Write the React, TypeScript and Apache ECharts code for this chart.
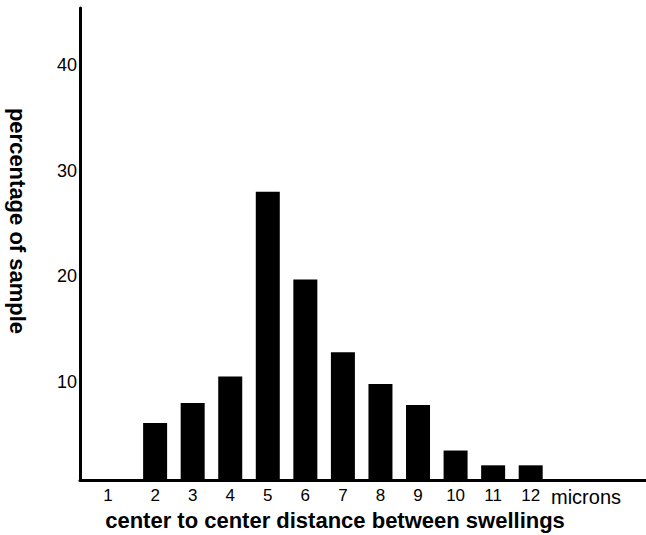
import React, { useEffect, useRef } from "react";
import * as echarts from "echarts";

const categories = [1, 2, 3, 4, 5, 6, 7, 8, 9, 10, 11, 12];
const percentages = [0, 6.1, 8.0, 10.5, 28.0, 19.7, 12.8, 9.8, 7.8, 3.5, 2.1, 2.1];
const yTickValues = [10, 20, 30, 40];
const xTitle = "center to center distance between swellings";
const yTitle = "percentage of sample";
const unitLabel = "microns";

const FONT = "'Liberation Sans', Arial, Helvetica, sans-serif";

export default function App() {
  const ref = useRef<HTMLDivElement>(null);
  useEffect(() => {
    document.body.style.margin = "0";
    if (!ref.current) return;
    const chart = echarts.init(ref.current, null, { renderer: "svg" });
    chart.setOption({
      animation: false,
      backgroundColor: "#fff",
      grid: { left: 80, right: 0, top: 8, bottom: 55, containLabel: false },
      xAxis: {
        type: "value",
        min: 0,
        max: 15.07,
        splitLine: { show: false },
        axisTick: { show: false },
        axisLine: { show: true, lineStyle: { color: "#000", width: 3 } },
        axisLabel: {
          customValues: categories,
          color: "#000",
          fontFamily: FONT,
          fontSize: 17,
          margin: 7,
          formatter: (v: number) => (v === 1 ? "{a|1}" : String(v)),
          rich: { a: { padding: [0, 19, 0, 0], fontSize: 17, fontFamily: FONT, color: "#000" } },
        },
      },
      yAxis: {
        type: "value",
        min: 0.71,
        max: 45.4,
        splitLine: { show: false },
        axisTick: { show: false },
        axisLine: { show: true, lineStyle: { color: "#000", width: 3 } },
        axisLabel: {
          customValues: yTickValues,
          color: "#000",
          fontFamily: FONT,
          fontSize: 18,
          margin: 3,
        },
      },
      series: [
        {
          type: "bar",
          data: categories.map((c, i) => [c, percentages[i]]),
          barWidth: 24,
          clip: true,
          itemStyle: { color: "#000" },
        },
      ],
      graphic: [
        {
          type: "text",
          x: 335,
          y: 520,
          style: {
            text: xTitle,
            fontFamily: FONT,
            fontSize: 22,
            fontWeight: "bold",
            fill: "#000",
            align: "center",
            verticalAlign: "middle",
          },
        },
        {
          type: "text",
          x: 17,
          y: 221,
          rotation: -Math.PI / 2,
          style: {
            text: yTitle,
            fontFamily: FONT,
            fontSize: 22,
            fontWeight: "bold",
            fill: "#000",
            align: "center",
            verticalAlign: "middle",
          },
        },
        {
          type: "text",
          x: 551,
          y: 497,
          style: {
            text: unitLabel,
            fontFamily: FONT,
            fontSize: 20,
            fill: "#000",
            align: "left",
            verticalAlign: "middle",
          },
        },
      ],
    });
    return () => chart.dispose();
  }, []);
  return <div ref={ref} style={{ width: 646, height: 535 }} />;
}
